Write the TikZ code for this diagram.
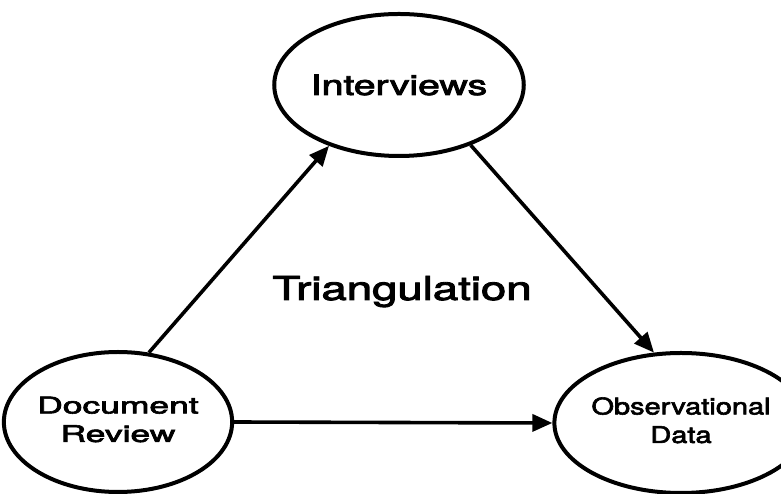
\documentclass[tikz,border=0pt]{standalone}
\usepackage{fontspec}
\setmainfont{TeX Gyre Heros}
\newfontfamily\medfont{TeX Gyre Heros}[FakeBold=2.5]
\usetikzlibrary{shapes.geometric,arrows.meta}
\newcommand\wtext[2]{\scalebox{#1}[1]{#2}}
\begin{document}
\begin{tikzpicture}[x=1pt,y=1pt,
  bubble/.style={ellipse,draw,line width=4pt,inner sep=0pt,fill=white},
  link/.style={line width=3.6pt,-{Triangle[length=20pt,width=17pt]}}]
\useasboundingbox[fill=white] (0,0) rectangle (781,494);
\node[bubble,minimum width=202pt,minimum height=142pt] (int) at (399,409)
  {\medfont\fontsize{28}{32}\selectfont\wtext{1.40}{Interviews}};
\node[bubble,minimum width=204pt,minimum height=140pt] (doc) at (118,72)
  {\raisebox{-3pt}{\medfont\fontsize{23}{28.5}\selectfont\wtext{1.54}{\begin{tabular}{@{}c@{}}Document\\Review\end{tabular}}}};
\node[bubble,minimum width=196pt,minimum height=140pt] (obs) at (681,71)
  {\raisebox{-2pt}{\medfont\fontsize{23}{28.5}\selectfont\wtext{1.26}{\begin{tabular}{@{}c@{}}Observational\\Data\end{tabular}}}};
\node[anchor=base] (tri) at (402,194) {\medfont\fontsize{33}{38}\selectfont\wtext{1.38}{Triangulation}};
\draw[link] (doc.66) -- (int.221);
\draw[link] (int.320) -- (obs.111);
\draw[link] (doc.east) -- (obs.west);
\end{tikzpicture}
\end{document}
